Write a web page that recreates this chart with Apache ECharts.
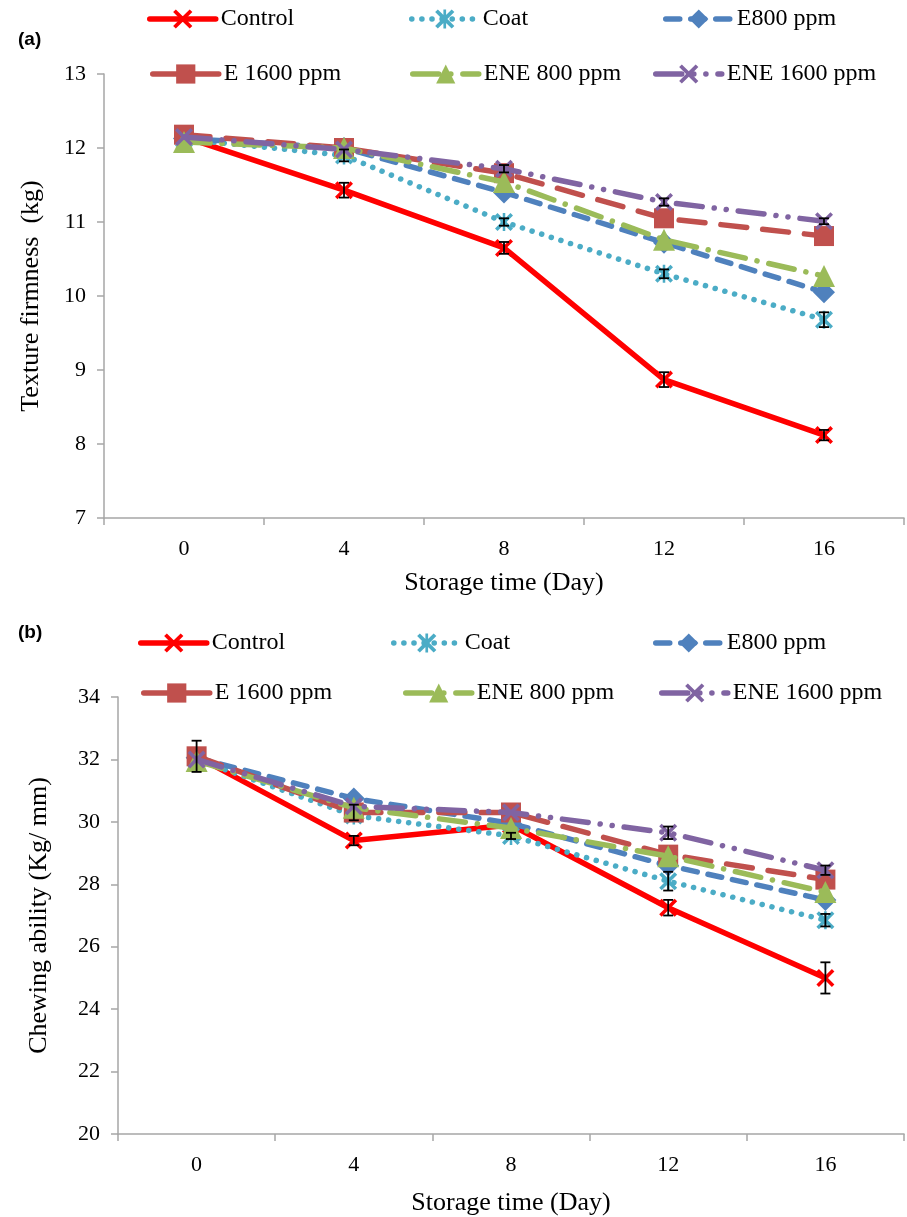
<!DOCTYPE html>
<html><head><meta charset="utf-8">
<script src="https://cdn.jsdelivr.net/npm/echarts@6/dist/echarts.min.js"></script>
<style>html,body{margin:0;padding:0;background:#fff}#c{width:907px;height:1217px}</style>
</head><body><div id="c"></div>
<script>
// ---- data ----
const days = ['0', '4', '8', '12', '16'];
const seriesNames = ['Control', 'Coat', 'E800 ppm', 'E 1600 ppm', 'ENE 800 ppm', 'ENE 1600 ppm'];

// (a) Texture firmness (kg)
const firmControl = [12.15, 11.43, 10.65, 8.87, 8.12];
const firmCoat    = [12.12, 11.90, 11.00, 10.30, 9.68];
const firmE800    = [12.13, 12.00, 11.40, 10.72, 10.05];
const firmE1600   = [12.18, 12.00, 11.66, 11.05, 10.81];
const firmENE800  = [12.08, 12.00, 11.54, 10.76, 10.27];
const firmENE1600 = [12.15, 11.98, 11.72, 11.27, 11.01];
const firmErrControl = [0, 0.10, 0.08, 0.10, 0.07];
const firmErrCoat    = [0, 0.08, 0.05, 0.06, 0.10];
const firmErrENE1600 = [0, 0, 0.05, 0.05, 0.04];

// (b) Chewing ability (Kg/ mm)
const chewControl = [32.10, 29.40, 29.90, 27.25, 25.00];
const chewCoat    = [32.00, 30.20, 29.55, 28.10, 26.85];
const chewE800    = [32.05, 30.75, 29.95, 28.60, 27.50];
const chewE1600   = [32.10, 30.30, 30.30, 28.95, 28.15];
const chewENE800  = [31.95, 30.45, 29.80, 28.90, 27.75];
const chewENE1600 = [32.00, 30.50, 30.30, 29.65, 28.45];
const chewErrControl = [0.50, 0.15, 0, 0.25, 0.50];
const chewErrCoat    = [0, 0, 0.10, 0.30, 0.20];
const chewErrE1600   = [0, 0.25, 0, 0, 0];
const chewErrENE1600 = [0, 0, 0, 0.20, 0.15];

const firmYTicks = {min: 7, max: 13, interval: 1};
const chewYTicks = {min: 20, max: 34, interval: 2};

// ---- styles ----
const FONT = 'Liberation Serif';
const X_PATH = 'path://M0,1.4L1.4,0L5,3.6L8.6,0L10,1.4L6.4,5L10,8.6L8.6,10L5,6.4L1.4,10L0,8.6L3.6,5Z';
const AST_PATH = 'path://M0,1.4L1.4,0L5,3.6L8.6,0L10,1.4L6.4,5L10,8.6L8.6,10L5,6.4L1.4,10L0,8.6L3.6,5ZM4.3,0L5.7,0L5.7,10L4.3,10Z';
const styles = [
  {color: '#FF0000', width: 5.5, type: 'solid', symbol: X_PATH, size: 18},
  {color: '#4BACC6', width: 5.5, type: [0.1, 10], symbol: AST_PATH, size: 18},
  {color: '#4F81BD', width: 5.5, type: [14, 11], symbol: 'diamond', size: 22},
  {color: '#C0504D', width: 5.5, type: [26, 16], symbol: 'rect', size: 20},
  {color: '#9BBB59', width: 5.5, type: [26, 12, 0.1, 12], symbol: 'triangle', size: 22},
  {color: '#8064A2', width: 5.5, type: [26, 12, 0.1, 12, 0.1, 12], symbol: X_PATH, size: 18}
];

function lineSeries(name, idx, data, gi) {
  const s = styles[idx];
  return {
    type: 'line', name: name, xAxisIndex: gi, yAxisIndex: gi, data: data,
    symbol: s.symbol, symbolSize: s.size, showAllSymbol: true,
    lineStyle: {color: s.color, width: s.width, type: s.type, cap: 'round', join: 'round'},
    itemStyle: {color: s.color},
    z: 2 + idx, animation: false
  };
}

function errData(vals, errs) {
  const out = [];
  errs.forEach((e, i) => { if (e > 0) out.push([i, vals[i], e]); });
  return out;
}
function renderErr(params, api) {
  const x = api.value(0), v = api.value(1), e = api.value(2);
  const t = api.coord([x, v + e]), b = api.coord([x, v - e]);
  const cx = t[0], hw = 5;
  const st = {stroke: '#000', lineWidth: 1.8};
  return {type: 'group', children: [
    {type: 'line', shape: {x1: cx, y1: t[1], x2: cx, y2: b[1]}, style: st},
    {type: 'line', shape: {x1: cx - hw, y1: t[1], x2: cx + hw, y2: t[1]}, style: st},
    {type: 'line', shape: {x1: cx - hw, y1: b[1], x2: cx + hw, y2: b[1]}, style: st}
  ]};
}
function errSeries(data, gi) {
  return {type: 'custom', xAxisIndex: gi, yAxisIndex: gi, data: data, renderItem: renderErr,
          encode: {x: 0, y: 1}, z: 20, silent: true, animation: false};
}

const axisGray = '#A6A6A6';
function xAxis(gi, gap, margin) {
  return {
    type: 'category', gridIndex: gi, data: days, boundaryGap: true,
    axisLine: {show: true, lineStyle: {color: axisGray, width: 1.5}},
    axisTick: {show: true, length: 7, lineStyle: {color: axisGray, width: 1.5}},
    axisLabel: {color: '#000', fontFamily: FONT, fontSize: 22, margin: margin},
    splitLine: {show: false},
    name: 'Storage time (Day)', nameLocation: 'middle', nameGap: gap,
    nameTextStyle: {color: '#000', fontFamily: FONT, fontSize: 26}
  };
}
function yAxis(gi, ticks, name, gap) {
  return {
    type: 'value', gridIndex: gi, min: ticks.min, max: ticks.max, interval: ticks.interval,
    axisLine: {show: true, lineStyle: {color: axisGray, width: 1.5}},
    axisTick: {show: true, length: 7, lineStyle: {color: axisGray, width: 1.5}},
    axisLabel: {color: '#000', fontFamily: FONT, fontSize: 22, margin: 18},
    splitLine: {show: false},
    name: name, nameLocation: 'middle', nameGap: gap, nameRotate: 90,
    nameTextStyle: {color: '#000', fontFamily: FONT, fontSize: 26}
  };
}

// legend placement: [left, centerY] per item
const legendPosA = [[147, 19], [409, 19], [663, 19], [150, 74], [410, 74], [653, 74]];
const legendPosB = [[138, 643], [391, 643], [653, 643], [141, 693], [403, 693], [659, 693]];
const legends = [];
[legendPosA, legendPosB].forEach(pos => {
  pos.forEach((p, i) => {
    legends.push({
      data: [seriesNames[i]], left: p[0], top: p[1] - 12, itemWidth: 66, itemHeight: 24,
      padding: 0, selectedMode: false,
      lineStyle: {width: 5.5},
      textStyle: {color: '#000', fontFamily: FONT, fontSize: 24}
    });
  });
});

const firmSets = [firmControl, firmCoat, firmE800, firmE1600, firmENE800, firmENE1600];
const chewSets = [chewControl, chewCoat, chewE800, chewE1600, chewENE800, chewENE1600];
const series = [];
firmSets.forEach((d, i) => series.push(lineSeries(seriesNames[i], i, d, 0)));
chewSets.forEach((d, i) => series.push(lineSeries(seriesNames[i], i, d, 1)));
series.push(errSeries(
  errData(firmControl, firmErrControl).concat(errData(firmCoat, firmErrCoat), errData(firmENE1600, firmErrENE1600)), 0));
series.push(errSeries(
  errData(chewControl, chewErrControl).concat(errData(chewCoat, chewErrCoat), errData(chewE1600, chewErrE1600), errData(chewENE1600, chewErrENE1600)), 1));

const chart = echarts.init(document.getElementById('c'), null, {renderer: 'canvas'});
chart.setOption({
  backgroundColor: '#fff',
  animation: false,
  grid: [
    {left: 104, right: 3, top: 74, height: 444},
    {left: 118, right: 3, top: 697, height: 440}
  ],
  xAxis: [xAxis(0, 52, 20), xAxis(1, 56, 20)],
  yAxis: [yAxis(0, firmYTicks, 'Texture firmness  (kg)', 60), yAxis(1, chewYTicks, 'Chewing ability (Kg/ mm)', 66)],
  legend: legends,
  graphic: [
    {type: 'text', left: 18, top: 30, style: {text: '(a)', fontFamily: 'Liberation Sans', fontWeight: 'bold', fontSize: 19, fill: '#000'}},
    {type: 'text', left: 18, top: 623, style: {text: '(b)', fontFamily: 'Liberation Sans', fontWeight: 'bold', fontSize: 19, fill: '#000'}}
  ],
  series: series
});
</script></body></html>
